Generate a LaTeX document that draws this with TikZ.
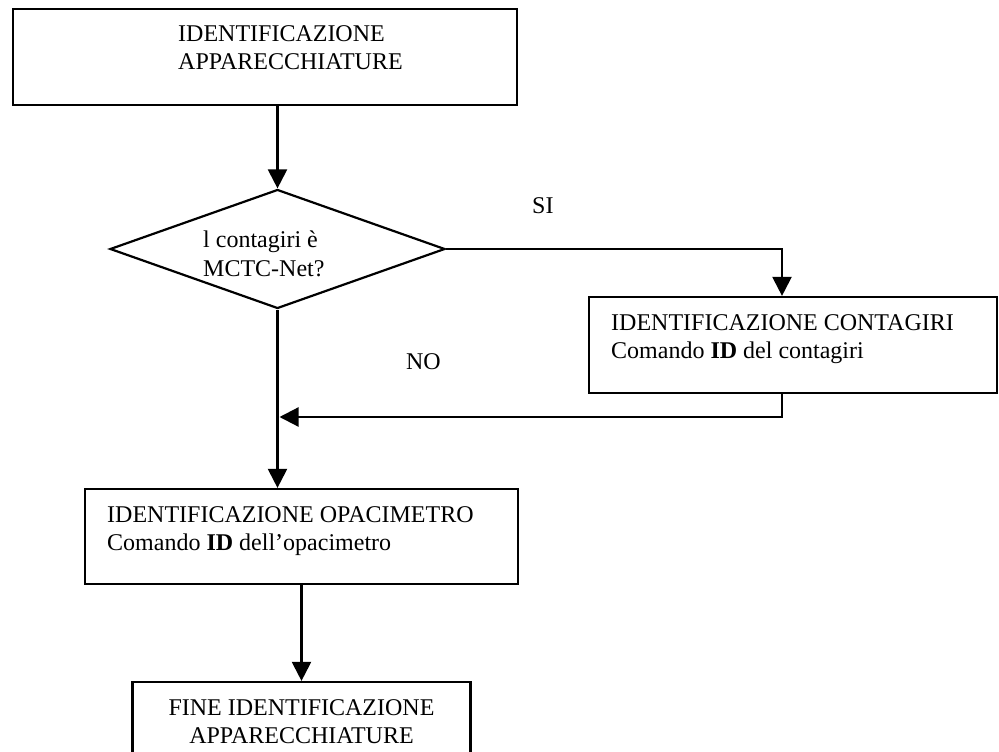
\documentclass[tikz,border=0pt]{standalone}
\usepackage{fontspec}
\setmainfont{Liberation Serif}
\usetikzlibrary{arrows.meta,shapes.geometric}
\begin{document}
\begin{tikzpicture}[x=1pt,y=-1pt,
  box/.style={draw,line width=2.2pt,rectangle,inner sep=0pt},
  dec/.style={draw,line width=2.2pt,diamond,inner sep=0pt},
  txt/.style={inner sep=0pt,font=\fontsize{24}{29}\selectfont},
  conn/.style={line width=2.2pt},
  arr/.style={conn,-{Triangle[length=19pt,width=19pt]}}]
\useasboundingbox (0,0) rectangle (999,752);
\clip (0,0) rectangle (999,752);
\fill[white] (0,0) rectangle (999,752);

% shapes
\node[box,minimum width=504pt,minimum height=96pt] (b1) at (265,57) {};
\node[dec,minimum width=335pt,minimum height=119pt] (d) at (277.5,249) {};
\node[box,minimum width=408pt,minimum height=96pt] (b2) at (793,345) {};
\node[box,minimum width=433pt,minimum height=95pt] (b3) at (301.5,536.5) {};
\node[box,minimum width=338pt,minimum height=100pt] (b4) at (301.5,732) {};

% texts
\node[txt,anchor=base west] (t1a) at (178,42) {IDENTIFICAZIONE};
\node[txt,anchor=base west] (t1b) at (178,70) {APPARECCHIATURE};
\node[txt,anchor=base west] (dta) at (203,247) {l contagiri è};
\node[txt,anchor=base west] (dtb) at (203,276) {MCTC-Net?};
\node[txt,anchor=base west] (si) at (532,213) {SI};
\node[txt,anchor=base east] (no) at (441,369) {NO};
\node[txt,anchor=base west] (t2a) at (611,330) {IDENTIFICAZIONE CONTAGIRI};
\node[txt,anchor=base west] (t2b) at (611,358) {Comando \textbf{ID} del contagiri};
\node[txt,anchor=base west] (t3a) at (107,522) {IDENTIFICAZIONE OPACIMETRO};
\node[txt,anchor=base west] (t3b) at (107,550) {Comando \textbf{ID} dell’opacimetro};
\node[txt,anchor=base] (t4a) at (301.5,715) {FINE IDENTIFICAZIONE};
\node[txt,anchor=base] (t4b) at (301.5,743) {APPARECCHIATURE};

% connectors
\coordinate (siT) at (782,249);
\coordinate (retR) at (782,417);
\coordinate (retL) at (279.5,417);
\draw[arr] (b1.south -| d.north) -- (d.north);
\draw[arr] (d.east) -- (siT) -- (siT |- b2.north);
\draw[arr] (siT |- b2.south) -- (retR) -- (retL);
\draw[arr] (d.south) -- (d.south |- b3.north);
\draw[arr] (b3.south) -- (b4.north);
\end{tikzpicture}
\end{document}
